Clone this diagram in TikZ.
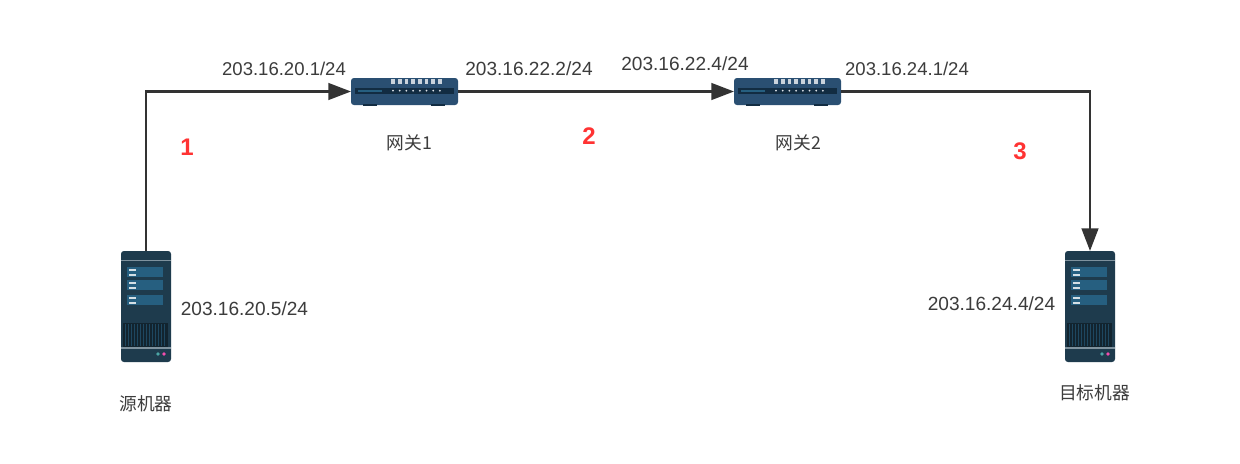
\documentclass[tikz,border=0pt]{standalone}
\usepackage{fontspec}
\setmainfont{Liberation Sans}
\newfontfamily\cjk{Noto Sans CJK SC}
\usetikzlibrary{arrows.meta}
\definecolor{srvbody}{HTML}{1E3B4D}
\definecolor{srvdark}{HTML}{12242F}
\definecolor{srvband}{HTML}{265F80}
\definecolor{srvline}{HTML}{7F929E}
\definecolor{swbody}{HTML}{2A4F72}
\definecolor{swdark}{HTML}{122C42}
\definecolor{txtgrey}{HTML}{3C3C3C}
\definecolor{numred}{HTML}{FF3333}
\tikzset{
  x=0.75pt,y=-0.75pt,
  serverbox/.style={draw=none,fill=srvbody,rounded corners=2.2pt,minimum width=37.5pt,minimum height=83.25pt,inner sep=0pt,outer sep=0pt},
  switchbox/.style={draw=none,fill=swbody,rounded corners=2.2pt,minimum width=80.25pt,minimum height=20.25pt,inner sep=0pt,outer sep=0pt},
  link/.style={draw=black!80,line width=1.8pt,-{Triangle[length=17pt,width=12.5pt]}},
  iplabel/.style={text=txtgrey,font=\fontsize{14.3pt}{16pt}\selectfont,inner sep=0pt},
  iplabelnarrow/.style={text=txtgrey,font=\fontsize{13.9pt}{16pt}\selectfont,inner sep=0pt},
  namelabel/.style={text=txtgrey,font=\cjk\fontsize{13.3pt}{15pt}\selectfont,inner sep=0pt},
  hoplabel/.style={text=numred,font=\bfseries\fontsize{18pt}{21pt}\selectfont,inner sep=0pt},
  serverface/.pic={
    % origin = top-left of box, in px
    \fill[srvline] (0,9) rectangle (50,10.2);
    \fill[srvband] (6,16) rectangle (42,26);
    \fill[srvband] (6,29) rectangle (42,39);
    \fill[srvband] (6,44) rectangle (42,54);
    \foreach \yy in {18.5,23.5,31.5,36.5,46.5,51.5}{\fill[white!80!srvband] (8,\yy-1) rectangle (15,\yy+1);}
    \fill[srvdark] (2,72) rectangle (47,96);
    \foreach \xx in {4,7,...,45}{\draw[srvband!60!srvdark,line width=0.5pt] (\xx,73) -- (\xx,95);}
    \fill[srvline] (0,96) rectangle (50,98);
    \fill[teal!70!white] (37,103) circle (1.8);
    \fill[magenta!70!white] (43,103) circle (1.8);
  },
  switchface/.pic={
    % origin = top-left of box, in px
    \fill[swdark] (4,10) rectangle (103,15.5);
    \fill[srvband] (7,11.5) rectangle (31,14);
    \foreach \xx in {42,48.7,...,90}{
      \fill[white!75!swbody] (\xx-1.8,0.5) rectangle (\xx+1.8,5.5);
      \fill[white!85!swbody] (\xx,12.7) circle (1);
    }
    \fill[swdark] (12,26) rectangle (26,28);
    \fill[swdark] (80,26) rectangle (94,28);
  },
}
\begin{document}
\begin{tikzpicture}
\useasboundingbox (0,0) rectangle (1240,464);
\fill[white] (0,0) rectangle (1240,464);

\node[serverbox] (src) at (146,306.5) {};
\path (121,251) pic {serverface};
\node[serverbox] (dst) at (1090,306.5) {};
\path (1065,251) pic {serverface};
\node[switchbox] (gw1) at (404.5,91.5) {};
\path (351,78) pic {switchface};
\node[switchbox] (gw2) at (787.5,91.5) {};
\path (734,78) pic {switchface};

\draw[link] (src.north) |- (gw1.west);
\draw[link] (gw1.east) -- (gw2.west);
\draw[link] (gw2.east) -| (dst.north);

\node[iplabelnarrow] (ip1) at (284,69) {203.16.20.1/24};
\node[iplabel] (ip2) at (529,69) {203.16.22.2/24};
\node[iplabel] (ip3) at (685,64) {203.16.22.4/24};
\node[iplabelnarrow] (ip4) at (907,69) {203.16.24.1/24};
\node[iplabel] (ip5) at (244.5,309) {203.16.20.5/24};
\node[iplabel] (ip6) at (991.5,304) {203.16.24.4/24};

\node[namelabel] (n1) at (409.5,143) {网关1};
\node[namelabel] (n2) at (798.5,143) {网关2};
\node[namelabel] (n3) at (146,404) {源机器};
\node[namelabel] (n4) at (1094.5,393) {目标机器};

\node[hoplabel] (h1) at (187,147) {1};
\node[hoplabel] (h2) at (589,136) {2};
\node[hoplabel] (h3) at (1020,151) {3};
\end{tikzpicture}
\end{document}
